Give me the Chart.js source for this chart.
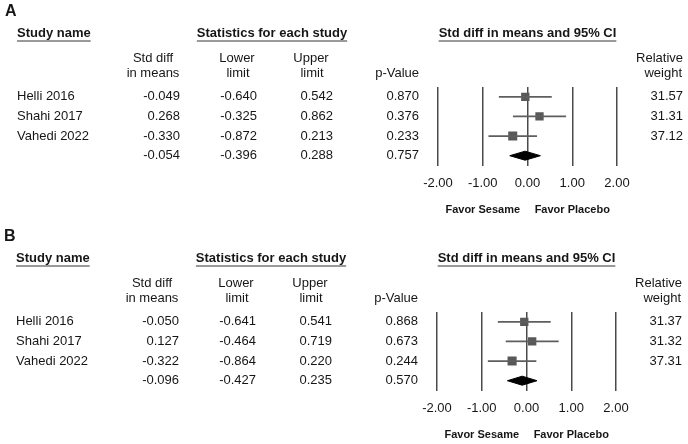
<!DOCTYPE html>
<html>
<head>
<meta charset="utf-8">
<script src="https://cdn.jsdelivr.net/npm/chart.js@4.4.1/dist/chart.umd.min.js"></script>
<style>
  html, body { margin: 0; padding: 0; background: #fff; overflow: hidden; }
  body { width: 688px; height: 444px; position: relative; }
  .panel { position: absolute; left: 0; width: 688px; height: 222px; }
  #panelA { top: 0; }
  #panelB { top: 225px; left: -1px; }
</style>
</head>
<body>
<div class="panel" id="panelA"><canvas id="chartA" width="688" height="222"></canvas></div>
<div class="panel" id="panelB"><canvas id="chartB" width="688" height="222"></canvas></div>
<script>
const studies = ["Helli 2016", "Shahi 2017", "Vahedi 2022"];
const xTicks = [-2, -1, 0, 1, 2];

// panel A
const estA = [-0.049, 0.268, -0.330];
const lowerA = [-0.640, -0.325, -0.872];
const upperA = [0.542, 0.862, 0.213];
const pA = [0.870, 0.376, 0.233];
const weightA = [31.57, 31.31, 37.12];
const totalA = [-0.054, -0.396, 0.288]; // est, lower, upper
const totalPA = 0.757;

// panel B
const estB = [-0.050, 0.127, -0.322];
const lowerB = [-0.641, -0.464, -0.864];
const upperB = [0.541, 0.719, 0.220];
const pB = [0.868, 0.673, 0.244];
const weightB = [31.37, 31.32, 37.31];
const totalB = [-0.096, -0.427, 0.235];
const totalPB = 0.570;

const ink = "#161616";
const FONT = '"Liberation Sans", Arial, sans-serif';

function headerUnderlined(ctx, text, x, align) {
  ctx.font = "bold 13px " + FONT;
  ctx.textAlign = align;
  ctx.fillText(text, x, 33);
  const w = ctx.measureText(text).width;
  const x0 = align === "center" ? x - w / 2 : x;
  ctx.save();
  ctx.strokeStyle = "#9a9a9a";
  ctx.lineWidth = 2;
  ctx.beginPath();
  ctx.moveTo(x0, 41); ctx.lineTo(x0 + w, 41);
  ctx.stroke();
  ctx.restore();
}

const tablePlugin = {
  id: "forestTable",
  afterDraw(chart) {
    const d = chart.options.plugins.forestTable;
    const ctx = chart.ctx, ys = chart.scales.y, xs = chart.scales.x;
    ctx.save();
    ctx.fillStyle = ink;
    ctx.textBaseline = "middle";

    ctx.font = "bold 16px " + FONT;
    ctx.textAlign = "left";
    ctx.fillText(d.letter, 5, 12);

    headerUnderlined(ctx, "Study name", 17, "left");
    headerUnderlined(ctx, "Statistics for each study", 272, "center");
    headerUnderlined(ctx, "Std diff in means and 95% CI", (xs.left + xs.right) / 2, "center");

    ctx.font = "13px " + FONT;
    ctx.textAlign = "center";
    ctx.fillText("Std diff", 153, 58); ctx.fillText("in means", 153, 73);
    ctx.fillText("Lower", 237, 58); ctx.fillText("limit", 238, 73);
    ctx.fillText("Upper", 311, 58); ctx.fillText("limit", 312, 73);
    ctx.textAlign = "right";
    ctx.fillText("p-Value", 419, 73);
    ctx.fillText("Relative", 683, 58); ctx.fillText("weight", 682, 73);

    const rows = d.names.length;
    for (let i = 0; i <= rows; i++) {
      const y = ys.getPixelForValue(i);
      const isTotal = i === rows;
      const est = isTotal ? d.total[0] : d.est[i];
      const lo = isTotal ? d.total[1] : d.lower[i];
      const hi = isTotal ? d.total[2] : d.upper[i];
      const p = isTotal ? d.totalP : d.p[i];
      if (!isTotal) {
        ctx.textAlign = "left";
        ctx.fillText(d.names[i], 17, y);
      }
      ctx.textAlign = "right";
      ctx.fillText(est.toFixed(3), 180, y);
      ctx.fillText(lo.toFixed(3), 257, y);
      ctx.fillText(hi.toFixed(3), 333, y);
      ctx.fillText(p.toFixed(3), 419, y);
      if (!isTotal) ctx.fillText(d.weight[i].toFixed(2), 683, y);
    }

    ctx.font = "bold 11px " + FONT;
    ctx.textAlign = "center";
    ctx.fillText("Favor Sesame", xs.getPixelForValue(-1), xs.bottom + 14.5);
    ctx.fillText("Favor Placebo", xs.getPixelForValue(1), xs.bottom + 14.5);
    ctx.restore();
  }
};

function makeForest(id, letter, est, lower, upper, p, weight, total, totalP) {
  const n = studies.length;
  const bars = studies.map((s, i) => ({
    data: [{ x: lower[i], y: i }, { x: upper[i], y: i }],
    showLine: true,
    borderColor: "#5e5e5e",
    borderWidth: 1.8,
    pointRadius: 0
  }));
  const squares = {
    data: est.map((v, i) => ({ x: v, y: i })),
    pointStyle: "rect",
    pointRadius: weight.map(w => 5.9 * Math.sqrt(w / 31.5)),
    backgroundColor: "#585858",
    borderWidth: 0
  };
  const diamond = {
    data: [
      { x: total[1], y: n }, { x: total[0], y: n - 0.23 },
      { x: total[2], y: n }, { x: total[0], y: n + 0.23 }, { x: total[1], y: n }
    ],
    showLine: true,
    fill: "shape",
    tension: 0,
    borderColor: "#000",
    backgroundColor: "#000",
    borderWidth: 1,
    pointRadius: 0
  };

  return new Chart(document.getElementById(id), {
    type: "scatter",
    data: { datasets: [...bars, squares, diamond] },
    options: {
      responsive: false,
      animation: false,
      layout: { padding: { left: 438, right: 71, top: 87, bottom: 26.5 } },
      scales: {
        x: {
          type: "linear", min: -2, max: 2,
          afterBuildTicks: s => { s.ticks = xTicks.map(v => ({ value: v })); },
          afterFit: s => { s.height = 30; },
          grid: { color: "#4a4a4a", lineWidth: 1.5, drawTicks: false },
          border: { display: false },
          ticks: {
            padding: 10, color: ink,
            font: { family: FONT, size: 13 },
            callback: v => Number(v).toFixed(2)
          }
        },
        y: { type: "linear", min: -0.5, max: n + 0.5, reverse: true, display: false }
      },
      plugins: {
        legend: { display: false },
        tooltip: { enabled: false },
        forestTable: { letter, names: studies, est, lower, upper, p, weight, total, totalP }
      }
    },
    plugins: [tablePlugin]
  });
}

makeForest("chartA", "A", estA, lowerA, upperA, pA, weightA, totalA, totalPA);
makeForest("chartB", "B", estB, lowerB, upperB, pB, weightB, totalB, totalPB);
</script>
</body>
</html>
